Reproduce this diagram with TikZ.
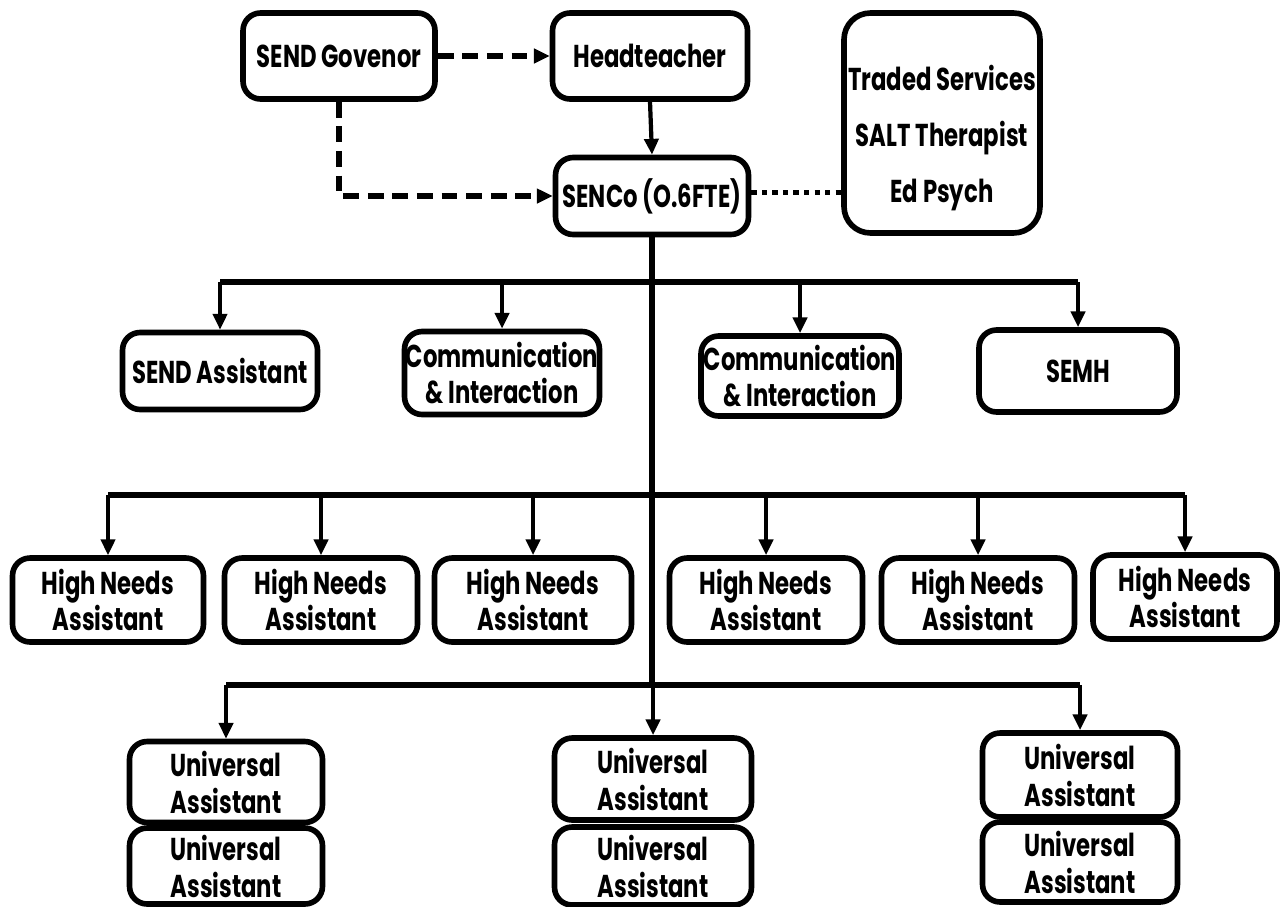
\documentclass[tikz,border=0pt]{standalone}
\usepackage{fontspec}
\setmainfont{Poppins}[FakeStretch=0.72]
\usetikzlibrary{arrows.meta}

\tikzset{
  staff/.style={draw, line width=3.2pt, rounded corners=10pt, align=center,
    inner sep=0pt, font=\bfseries\fontsize{18}{21}\selectfont},
  feed/.style={line width=2.4pt, -{Triangle[length=9pt,width=8pt]}},
  bar/.style={line width=3pt},
  report/.style={line width=3pt, dash pattern=on 9pt off 5pt,
    -{Triangle[length=9pt,width=8pt]}},
  advice/.style={line width=3pt, dash pattern=on 3pt off 3pt}
}

\begin{document}
\begin{tikzpicture}[x=0.02cm,y=-0.02cm,line join=round]
    \useasboundingbox (0,0) rectangle (1280,906);

    \node[staff, minimum width=3.84cm, minimum height=1.72cm] (gov) at (339,56) {SEND Govenor};
    \node[staff, minimum width=3.9cm, minimum height=1.72cm] (head) at (650,56) {Headteacher};
    \node[staff, minimum width=3.86cm, minimum height=1.54cm] (senco) at (652,196) {SENCo (O.6FTE)};
    \node[staff, rounded corners=15pt, minimum width=3.92cm, minimum height=4.4cm,
      font=\bfseries\fontsize{18}{32}\selectfont] (ext) at (942,123)
      {\raisebox{-7pt}[\height][\depth]{\begin{tabular}{@{}c@{}}Traded Services\\SALT Therapist\\Ed Psych\end{tabular}}};

    \node[staff, minimum width=3.9cm, minimum height=1.54cm] (sa) at (220,371) {SEND Assistant};
    \node[staff, minimum width=3.9cm, minimum height=1.66cm] (ci1) at (502,373) {Communication\\\& Interaction};
    \node[staff, minimum width=3.96cm, minimum height=1.6cm] (ci2) at (800,376) {Communication\\\& Interaction};
    \node[staff, minimum width=3.96cm, minimum height=1.64cm] (semh) at (1078,371) {SEMH};

    \node[staff, minimum width=3.82cm, minimum height=1.68cm] (hn1) at (108,600) {High Needs\\Assistant};
    \node[staff, minimum width=3.86cm, minimum height=1.68cm] (hn2) at (321,600) {High Needs\\Assistant};
    \node[staff, minimum width=3.94cm, minimum height=1.68cm] (hn3) at (533,600) {High Needs\\Assistant};
    \node[staff, minimum width=3.86cm, minimum height=1.68cm] (hn4) at (766,600) {High Needs\\Assistant};
    \node[staff, minimum width=3.86cm, minimum height=1.68cm] (hn5) at (978,600) {High Needs\\Assistant};
    \node[staff, minimum width=3.68cm, minimum height=1.68cm] (hn6) at (1185,597) {High Needs\\Assistant};

    \node[staff, minimum width=3.86cm, minimum height=1.62cm] (u1a) at (226,782) {Universal\\Assistant};
    \node[staff, minimum width=3.86cm, minimum height=1.52cm] (u1b) at (226,866) {Universal\\Assistant};
    \node[staff, minimum width=3.94cm, minimum height=1.64cm] (u2a) at (653,779) {Universal\\Assistant};
    \node[staff, minimum width=3.94cm, minimum height=1.56cm] (u2b) at (653,866) {Universal\\Assistant};
    \node[staff, minimum width=3.9cm, minimum height=1.68cm] (u3a) at (1080,775) {Universal\\Assistant};
    \node[staff, minimum width=3.9cm, minimum height=1.6cm] (u3b) at (1080,862) {Universal\\Assistant};

    \coordinate (b1) at (652,282);
    \coordinate (b2) at (652,495);
    \coordinate (b3) at (652,685);

    \draw[report] (gov.east) -- (head.west);
    \draw[report] (gov.south) |- (senco.west);
    \draw[feed] (head.south) -- (senco.north);
    \draw[advice] ([yshift=2pt]senco.east) -- ([yshift=2pt]senco.east -| ext.west);

    \draw[bar] (senco.south) -- (b3);
    \draw[bar] (sa.north |- b1) -- (semh.north |- b1);
    \draw[bar] (hn1.north |- b2) -- (hn6.north |- b2);
    \draw[bar] (u1a.north |- b3) -- (u3a.north |- b3);

    \draw[feed] (sa.north |- b1) -- (sa.north);
    \draw[feed] (ci1.north |- b1) -- (ci1.north);
    \draw[feed] (ci2.north |- b1) -- (ci2.north);
    \draw[feed] (semh.north |- b1) -- (semh.north);

    \draw[feed] (hn1.north |- b2) -- (hn1.north);
    \draw[feed] (hn2.north |- b2) -- (hn2.north);
    \draw[feed] (hn3.north |- b2) -- (hn3.north);
    \draw[feed] (hn4.north |- b2) -- (hn4.north);
    \draw[feed] (hn5.north |- b2) -- (hn5.north);
    \draw[feed] (hn6.north |- b2) -- (hn6.north);

    \draw[feed] (u1a.north |- b3) -- (u1a.north);
    \draw[feed] (u2a.north |- b3) -- (u2a.north);
    \draw[feed] (u3a.north |- b3) -- (u3a.north);
\end{tikzpicture}
\end{document}
